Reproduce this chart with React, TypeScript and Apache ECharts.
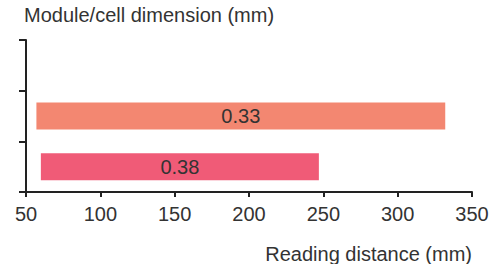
import React, { useEffect, useRef } from "react";
import * as echarts from "echarts";

const categories = ["0.38", "0.33", ""];
const rangeStart = [60, 57, null];
const rangeEnd = [247, 332, null];
const barColors = ["#F05B77", "#F38771"];
const xTicks = { min: 50, max: 350, interval: 50 };
const yTitle = "Module/cell dimension (mm)";
const xTitle = "Reading distance (mm)";

export default function App() {
  const ref = useRef<HTMLDivElement>(null);
  useEffect(() => {
    if (!ref.current) return;
    const chart = echarts.init(ref.current, undefined, { renderer: "svg" });
    const font = "'Liberation Sans', Arial, sans-serif";
    const spans = rangeEnd.map((e, i) =>
      e == null || rangeStart[i] == null ? null : (e as number) - (rangeStart[i] as number)
    );
    chart.setOption({
      animation: false,
      textStyle: { fontFamily: font },
      grid: { left: 26, right: 21, top: 40, bottom: 72, containLabel: false },
      xAxis: {
        type: "value",
        min: xTicks.min,
        max: xTicks.max,
        interval: xTicks.interval,
        splitLine: { show: false },
        axisLine: { show: true, lineStyle: { color: "#222", width: 2 } },
        axisTick: { show: true, length: 5, lineStyle: { color: "#222", width: 2 } },
        axisLabel: { color: "#333", fontSize: 20, margin: 12, fontFamily: font },
      },
      yAxis: {
        type: "category",
        data: categories,
        axisLine: { show: true, lineStyle: { color: "#222", width: 2 } },
        axisTick: { show: true, length: 7, alignWithLabel: false, lineStyle: { color: "#222", width: 2 } },
        axisLabel: { show: false },
        splitLine: { show: false },
      },
      graphic: [
        {
          type: "text",
          left: 24,
          top: 5,
          style: { text: yTitle, fontSize: 20, fill: "#333", fontFamily: font },
        },
        {
          type: "text",
          right: 21,
          top: 244,
          style: { text: xTitle, fontSize: 20, fill: "#333", fontFamily: font },
        },
      ],
      series: [
        {
          type: "bar",
          stack: "r",
          data: rangeStart,
          barWidth: 27,
          itemStyle: { color: "transparent" },
          silent: true,
        },
        {
          type: "bar",
          stack: "r",
          barWidth: 27,
          data: spans.map((v, i) =>
            v == null ? null : { value: v, itemStyle: { color: barColors[i] } }
          ),
          label: {
            show: true,
            position: "inside",
            formatter: (p: any) => categories[p.dataIndex],
            color: "#333",
            fontSize: 20,
            fontFamily: font,
          },
        },
      ],
    });
    return () => chart.dispose();
  }, []);
  return <div ref={ref} style={{ width: 493, height: 264, position: "absolute", left: 0, top: 0 }} />;
}
